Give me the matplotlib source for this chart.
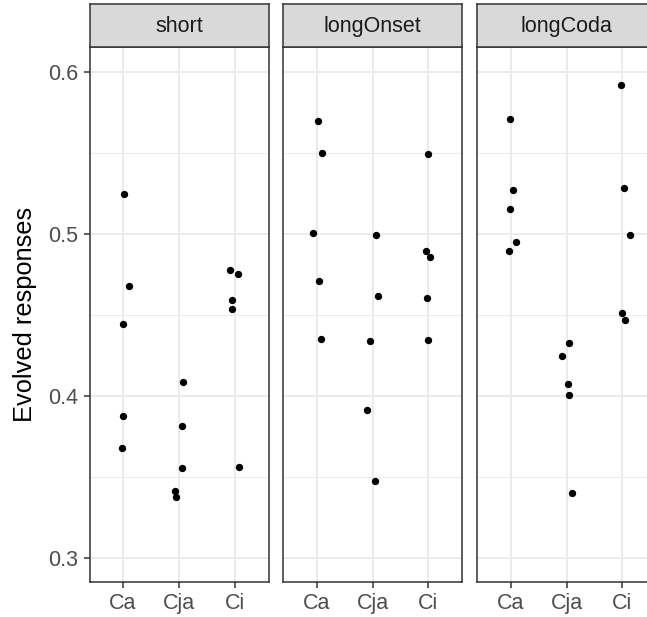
import numpy as np
import matplotlib.pyplot as plt

plt.rcParams['font.family'] = ['Liberation Sans', 'DejaVu Sans']

panels = ["short", "longOnset", "longCoda"]
groups = ["Ca", "Cja", "Ci"]

# values per group (Ca, Cja, Ci)
short_y = [[0.525, 0.468, 0.4445, 0.3876, 0.3679],
           [0.4085, 0.3815, 0.3557, 0.3416, 0.3375],
           [0.4779, 0.4752, 0.4591, 0.4538, 0.3560]]
onset_y = [[0.570, 0.550, 0.5005, 0.471, 0.4353],
           [0.4995, 0.462, 0.434, 0.3912, 0.3477],
           [0.5496, 0.4895, 0.4859, 0.4608, 0.4345]]
coda_y = [[0.571, 0.527, 0.5158, 0.4951, 0.4895],
          [0.4331, 0.4246, 0.4078, 0.4010, 0.3404],
          [0.592, 0.5285, 0.4995, 0.4516, 0.4472]]

# horizontal jitter of each point (category units)
short_jit = [[0.01, 0.10, -0.01, 0.0, -0.02],
             [0.065, 0.054, 0.05, -0.07, -0.05],
             [-0.08, 0.06, -0.05, -0.05, 0.08]]
onset_jit = [[0.02, 0.09, -0.07, 0.05, 0.08],
             [0.07, 0.10, -0.04, -0.10, 0.04],
             [0.0, -0.05, 0.02, -0.02, 0.0]]
coda_jit = [[-0.01, 0.04, -0.01, 0.10, -0.02],
            [0.05, -0.08, 0.03, 0.04, 0.10],
            [-0.02, 0.02, 0.13, 0.0, 0.04]]

all_y = [short_y, onset_y, coda_y]
all_jit = [short_jit, onset_jit, coda_jit]

W, H = 647, 617
fig = plt.figure(figsize=(W / 100, H / 100), dpi=100)

lefts = [89.5, 283, 477]
pw = 179
top, bottom, strip_top = 46.5, 581.5, 4

grid_c = "#EBEBEB"
dark = "#333333"

for i, name in enumerate(panels):
    ax = fig.add_axes([lefts[i] / W, (H - bottom) / H, pw / W, (bottom - top) / H])
    for g in range(3):
        xs = np.array(all_jit[i][g]) + g + 1
        ax.scatter(xs, all_y[i][g], s=28, color="black", zorder=3, linewidths=0)
    ax.set_xlim(0.4, 3.6)
    ax.set_ylim(0.2856, 0.6158)
    ax.set_xticks([1, 2, 3])
    ax.set_xticklabels(groups)
    ax.set_yticks([0.3, 0.4, 0.5, 0.6])
    ax.set_yticks([0.35, 0.45, 0.55], minor=True)
    ax.grid(True, which="major", color=grid_c, linewidth=1.4, zorder=0)
    ax.grid(True, which="minor", axis="y", color=grid_c, linewidth=0.7, zorder=0)
    ax.set_axisbelow(True)
    ax.tick_params(which="major", length=4, width=1.1, color=dark, pad=4,
                   labelsize=15.5, labelcolor="#4D4D4D")
    ax.tick_params(which="minor", length=0)
    if i == 0:
        ax.set_yticklabels(["0.3", "0.4", "0.5", "0.6"])
        ax.set_ylabel("Evolved responses", fontsize=18.3, labelpad=8)
    else:
        ax.tick_params(axis="y", which="major", length=0, labelleft=False)
    for sp in ax.spines.values():
        sp.set_color(dark)
        sp.set_linewidth(1.1)

    sax = fig.add_axes([lefts[i] / W, (H - top) / H, pw / W, (top - strip_top) / H])
    sax.set_facecolor("#D9D9D9")
    sax.set_xticks([])
    sax.set_yticks([])
    for sp in sax.spines.values():
        sp.set_color(dark)
        sp.set_linewidth(1.1)
    sax.text(0.5, 0.48, name, ha="center", va="center", fontsize=15.5,
             color="#1A1A1A", transform=sax.transAxes)

fig.savefig("out.png", dpi=100)
